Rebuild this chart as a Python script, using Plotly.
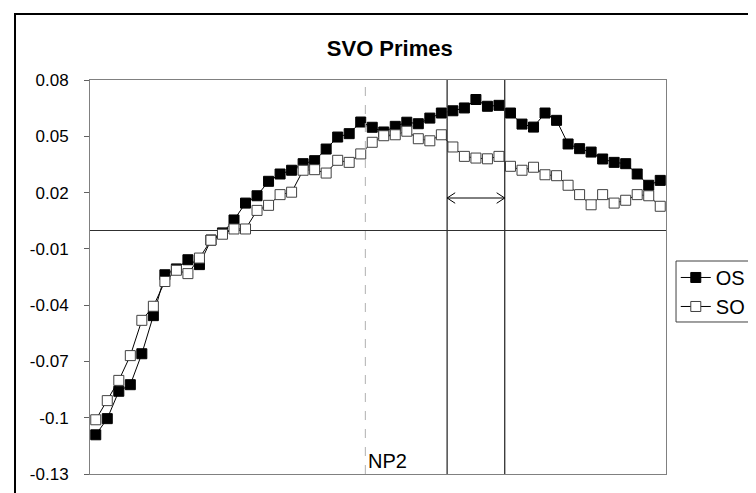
import plotly.graph_objects as go

title_text = "SVO Primes"
categories = list(range(1, 51))
os_values = [-0.1091, -0.1005, -0.0859, -0.0824, -0.0659, -0.0456, -0.0238, -0.0207, -0.0158, -0.0184,
             -0.0053, -0.0015, 0.0054, 0.0144, 0.0183, 0.0260, 0.0299, 0.0319, 0.0354, 0.0370,
             0.0432, 0.0496, 0.0514, 0.0576, 0.0548, 0.0523, 0.0553, 0.0575, 0.0567, 0.0597,
             0.0624, 0.0636, 0.0651, 0.0696, 0.0660, 0.0665, 0.0624, 0.0565, 0.0549, 0.0624,
             0.0585, 0.0459, 0.0434, 0.0416, 0.0379, 0.0361, 0.0354, 0.0299, 0.0239, 0.0265]
so_values = [-0.1011, -0.0909, -0.0801, -0.0669, -0.0481, -0.0406, -0.0274, -0.0214, -0.0232, -0.0149,
             -0.0054, -0.0022, 0.0006, 0.0006, 0.0105, 0.0132, 0.0189, 0.0202, 0.0319, 0.0322,
             0.0304, 0.0372, 0.0361, 0.0406, 0.0468, 0.0503, 0.0508, 0.0527, 0.0487, 0.0476,
             0.0508, 0.0443, 0.0393, 0.0384, 0.0380, 0.0393, 0.0340, 0.0319, 0.0335, 0.0295,
             0.0290, 0.0239, 0.0189, 0.0135, 0.0189, 0.0144, 0.0159, 0.0189, 0.0183, 0.0127]
y_ticks = [-0.13, -0.10, -0.07, -0.04, -0.01, 0.02, 0.05, 0.08]
y_tick_labels = ["-0.13", "-0.1", "-0.07", "-0.04", "-0.01", "0.02", "0.05", "0.08"]
np2_x = 24.4
window_start = 31.5
window_end = 36.5
arrow_y = 0.0171

font = "Liberation Sans, Arial, sans-serif"

fig = go.Figure()
fig.add_trace(go.Scatter(
    x=categories, y=os_values, name="OS", mode="lines+markers",
    line=dict(color="black", width=1),
    marker=dict(symbol="square", size=10, color="black", line=dict(color="black", width=1)),
))
fig.add_trace(go.Scatter(
    x=categories, y=so_values, name="SO", mode="lines+markers",
    line=dict(color="black", width=1),
    marker=dict(symbol="square", size=10, color="white", line=dict(color="#404040", width=1)),
))

shapes = []
# outer chart frame
shapes.append(dict(type="rect", xref="paper", yref="paper", x0=-0.1302, x1=1.4, y0=-0.3, y1=1.1675,
                   line=dict(color="black", width=2), layer="below"))
# legend frame (extends past the right edge as in the original)
shapes.append(dict(type="rect", xref="paper", yref="paper", x0=1.0174, x1=1.3, y0=0.3858, y1=0.5406,
                   line=dict(color="#404040", width=1), layer="below"))
# NP2 dashed line
shapes.append(dict(type="line", xref="x", yref="paper", x0=np2_x, x1=np2_x, y0=0, y1=1,
                   line=dict(color="#b0b0b0", width=1, dash="dash")))
for xv in (window_start, window_end):
    shapes.append(dict(type="line", xref="x", yref="paper", x0=xv, x1=xv, y0=0, y1=1,
                       line=dict(color="#303030", width=1.3)))
# double-headed arrow
shapes.append(dict(type="line", xref="x", yref="y", x0=window_start, x1=window_end, y0=arrow_y, y1=arrow_y,
                   line=dict(color="black", width=1)))
hx, hy = 0.7, 0.0028
shapes.append(dict(type="path", xref="x", yref="y",
                   path=f"M {window_start + hx} {arrow_y + hy} L {window_start} {arrow_y} L {window_start + hx} {arrow_y - hy}",
                   line=dict(color="black", width=1)))
shapes.append(dict(type="path", xref="x", yref="y",
                   path=f"M {window_end - hx} {arrow_y + hy} L {window_end} {arrow_y} L {window_end - hx} {arrow_y - hy}",
                   line=dict(color="black", width=1)))

fig.update_layout(
    width=756, height=493,
    margin=dict(l=82, r=98, t=72, b=27),
    paper_bgcolor="white", plot_bgcolor="white",
    font=dict(family=font, color="black"),
    title=dict(text=f"<b>{title_text}</b>", x=0.505, xanchor="center", xref="container",
               y=1 - 40 / 493, yanchor="middle", yref="container",
               font=dict(size=22, family=font, color="black")),
    showlegend=True,
    legend=dict(x=1.017, xanchor="left", y=0.462, yanchor="middle",
                borderwidth=0, bgcolor="rgba(0,0,0,0)",
                font=dict(size=20, family=font), tracegroupgap=0, itemwidth=30),
    shapes=shapes,
    annotations=[dict(text="NP2", x=np2_x, xref="x", y=0, yref="paper", xanchor="left", yanchor="bottom",
                      xshift=1, yshift=0, showarrow=False, font=dict(size=20, family=font, color="black"))],
)
fig.update_xaxes(range=[0.5, 50.5], showticklabels=False, ticks="", showgrid=False, zeroline=False,
                 showline=True, mirror=True, linecolor="#808080", linewidth=1)
fig.update_yaxes(range=[-0.13, 0.08], tickvals=y_ticks, ticktext=y_tick_labels, ticks="outside", ticklen=5,
                 tickcolor="#606060", showgrid=False, showline=True, mirror=True, linecolor="#808080",
                 linewidth=1, zeroline=True, zerolinecolor="#303030", zerolinewidth=1,
                 tickfont=dict(size=17, family=font), ticklabelstandoff=12)

fig.write_html("out.html")
